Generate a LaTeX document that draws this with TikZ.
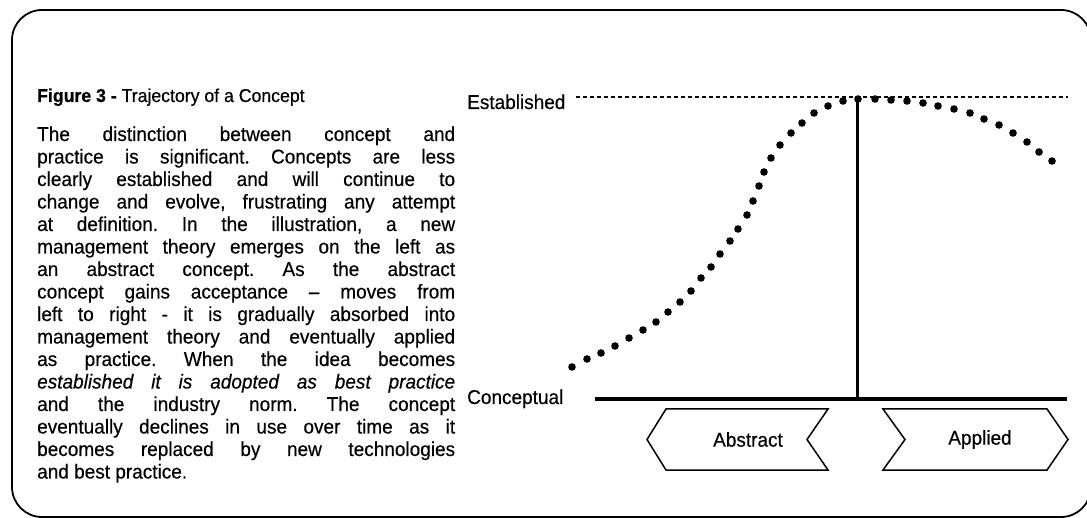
\documentclass[tikz,border=0pt]{standalone}
\usepackage{fontspec}
\setmainfont[FakeStretch=0.95,FakeBold=0.4]{Liberation Sans}
\begin{document}
\frenchspacing
\begin{tikzpicture}[x=1pt,y=-1pt,
  bodyfont/.style={font=\fontsize{20}{22.5}\selectfont},
  label/.style={anchor=base west,inner sep=0pt,bodyfont},
  boxtext/.style={inner sep=0pt,bodyfont},
  boxline/.style={line width=1.5pt,line join=miter},
  dot/.style={fill=black}]
\useasboundingbox (0,0) rectangle (1087,518);
\draw[line width=1.8pt,rounded corners=30pt] (12,10) rectangle (1091,517);
% heading
\node[anchor=base west,inner sep=0pt,font=\fontsize{18.6}{22}\selectfont] (title) at (37,102)
  {\textbf{Figure 3 -} Trajectory of a Concept};
% body
\node[anchor=base west,inner sep=0pt,bodyfont] (body) at (37,141) {%
\begin{minipage}[t]{418pt}\setlength{\baselineskip}{22.5pt}%
\makebox[\linewidth][s]{The distinction between concept and}\\
\makebox[\linewidth][s]{practice is significant. Concepts are less}\\
\makebox[\linewidth][s]{clearly established and will continue to}\\
\makebox[\linewidth][s]{change and evolve, frustrating any attempt}\\
\makebox[\linewidth][s]{at definition. In the illustration, a new}\\
\makebox[\linewidth][s]{management theory emerges on the left as}\\
\makebox[\linewidth][s]{an abstract concept. As the abstract}\\
\makebox[\linewidth][s]{concept gains acceptance -- moves from}\\
\makebox[\linewidth][s]{left to right - it is gradually absorbed into}\\
\makebox[\linewidth][s]{management theory and eventually applied}\\
\makebox[\linewidth][s]{as practice. When the idea becomes}\\
\makebox[\linewidth][s]{\itshape established it is adopted as best practice}\\
\makebox[\linewidth][s]{and the industry norm. The concept}\\
\makebox[\linewidth][s]{eventually declines in use over time as it}\\
\makebox[\linewidth][s]{becomes replaced by new technologies}\\
and best practice.
\end{minipage}};
% axis labels
\node[label] (est) at (467,109) {Established};
\node[label] (conc) at (467,404) {Conceptual};
% lines
\coordinate (dashL) at (576,97);
\coordinate (dashR) at (1068,97);
\draw[dash pattern=on 4pt off 3pt,line width=1.3pt] (dashL) -- (dashR);
\coordinate (axL) at (595,399);
\coordinate (axR) at (1067,399);
\draw[line width=4.5pt] (axL) -- (axR);
\coordinate (peak) at (857,97);
\coordinate (foot) at (857,399);
\draw[line width=3pt] (peak) -- (foot);
% boxes
\draw[boxline] (647,439.5) -- (666,409) -- (828,409) -- (807,439.5) -- (828,470) -- (666,470) -- cycle;
\node[boxtext] (abstract) at (748,439.5) {Abstract};
\draw[boxline] (883,409) -- (1047,409) -- (1068,439.5) -- (1047,470) -- (883,470) -- (905,439.5) -- cycle;
\node[boxtext] (applied) at (980,439.5) {Applied};
% dotted trajectory
\foreach \p in {(572,367),(587,359),(601,353),(615,346),(629,338),(643,330),(656,322),(668,312),(680,302),(691,291),(701,278),(711,267),(720,254),(730,241),(738,229),(747,215),(753,201),(759,186),(764,172),(771,158),(780,145),(791,133),(802,123),(814,113),(828,106),(843,101),(858,99),(875,99),(891,100),(907,101),(923,103),(938,106),(954,109),(970,113),(984,119),(999,125),(1013,133),(1027,142),(1039,152),(1052,161)}
  \fill[dot] \p circle (3.8pt);
\end{tikzpicture}
\end{document}
